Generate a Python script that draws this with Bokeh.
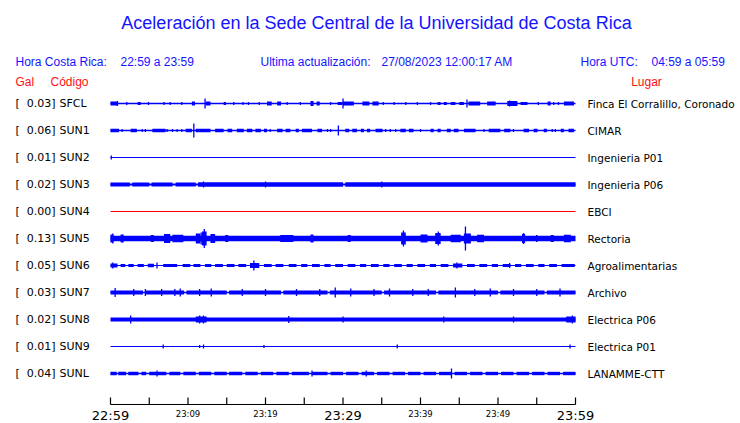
from bokeh.plotting import figure
from bokeh.models import Range1d, ColumnDataSource, Label
from bokeh.core.properties import value
from bokeh.embed import file_html
from bokeh.resources import INLINE

# ---------------- data ----------------
CODES = ["SFCL", "SUN1", "SUN2", "SUN3", "SUN4", "SUN5", "SUN6", "SUN7", "SUN8", "SUN9", "SUNL"]
PEAK_GAL = [0.03, 0.06, 0.01, 0.02, 0.00, 0.13, 0.05, 0.03, 0.02, 0.01, 0.04]
PLACES = ["Finca El Corralillo, Coronado", "CIMAR", "Ingenieria P01", "Ingenieria P06", "EBCI",
          "Rectoria", "Agroalimentarias", "Archivo", "Electrica P06", "Electrica P01", "LANAMME-CTT"]

# time axis: minutes after 22:59 (local Costa Rica time)
TICK_MINUTES = [0, 5, 10, 15, 20, 25, 30, 35, 40, 45, 50, 55, 60]
BIG_TICKS = [0, 30, 60]
BIG_LABELS = ["22:59", "23:29", "23:59"]
SMALL_TICKS = [10, 20, 40, 50]
SMALL_LABELS = ["23:09", "23:19", "23:39", "23:49"]

# trace appearance (display px): base line width
BASE_W = [1.5, 1.4, 1.2, 2.0, 1.2, 5.4, 1.2, 1.5, 4.0, 1.2, 1.5]

# bursts: (start minute, end minute, half height px)
SFCL_BURSTS = [(0, 0.9, 2), (3.5, 3.9, 1.5), (10.5, 10.9, 2), (12.3, 12.9, 2), (14.6, 14.9, 1.5),
               (20.2, 20.8, 2), (21.5, 22, 2), (25.8, 26.2, 2.5), (26.6, 27, 2), (29.3, 29.9, 1.5),
               (30, 31.4, 2), (32.5, 33.4, 2), (33.8, 34.6, 2), (42.2, 42.6, 1.5), (43, 43.4, 1.5),
               (43.9, 44.5, 1.5), (45, 45.6, 1.5), (46.2, 47.7, 2), (48.6, 49.7, 2), (51.2, 52.5, 2.5),
               (52.9, 53.8, 1.5), (56.4, 56.8, 2), (58.5, 59.8, 2)]
SUN1_BURSTS = [(0, 1.1, 1.7), (2.6, 3.4, 1.7), (5.4, 7.1, 1.7), (9.7, 10.5, 1.7), (11, 12.9, 1.7),
               (13.5, 14.6, 1.7), (15.1, 15.7, 1.7), (16.3, 17.2, 1.7), (17.6, 18.3, 1.7), (18.7, 19.4, 1.7),
               (19.8, 20.2, 1.7), (21.5, 22.2, 1.7), (22.6, 23.2, 1.7), (23.9, 24.3, 1.7), (24.7, 26, 1.7),
               (26.7, 27.3, 1.7), (30.3, 30.8, 1.7), (31.2, 31.8, 1.7), (32.3, 32.7, 1.7), (33.1, 33.5, 1.7),
               (34.2, 35.1, 1.7), (37.4, 38.1, 1.7), (38.5, 39.1, 1.7), (41.3, 41.7, 1.7), (42.2, 42.6, 1.7),
               (43.4, 43.9, 1.7), (44.3, 44.9, 1.7), (45.6, 47.1, 1.7), (48.8, 50.3, 1.7), (50.8, 51.6, 1.7),
               (53.3, 54, 1.7), (54.6, 55.1, 1.7), (55.9, 56.3, 1.7), (58.1, 58.5, 1.7), (59.1, 59.8, 1.7)]
SUN2_BURSTS = []
SUN3_BURSTS = [(0, 2.5, 2), (2.8, 5, 2), (5.3, 8, 2), (8.4, 11, 2), (11.3, 30, 2.2), (30.3, 60, 2.2)]
SUN4_BURSTS = []
SUN5_BURSTS = [(0, 0.4, 4), (1.3, 1.7, 4), (5.2, 5.6, 3.5), (6.9, 7.7, 4.5), (8, 9.4, 3.8), (11, 11.6, 5),
               (11.8, 12.4, 7), (12.9, 13.5, 4.5), (14.8, 15.2, 3.5), (21.9, 23.6, 3.5), (25.8, 26.2, 4),
               (30.6, 31, 3.5), (37.5, 38.1, 6), (40, 40.9, 4), (41.9, 42.6, 5.5), (43.9, 45.2, 3.8),
               (45.6, 46.5, 5), (47.3, 48.2, 3.8), (53.1, 53.5, 4.5), (54.9, 55.1, 3.5), (56.8, 57.2, 3.5),
               (58.5, 59.4, 3.8)]
SUN6_BURSTS = [(0, 0.9, 2), (1.3, 1.9, 1.5), (2.3, 3, 1.5), (3.5, 4.3, 1.5), (4.8, 5.6, 1.8), (6.8, 8.6, 1.5),
               (9.3, 10.3, 1.5), (10.7, 11.6, 1.5), (12.2, 13, 1.5), (13.5, 14.5, 1.5), (15, 16, 1.5),
               (16.5, 17.5, 1.5), (18, 19.2, 2.5), (19.8, 20.8, 1.5), (21.3, 22.3, 1.5), (23, 24, 1.5),
               (24.6, 25.4, 1.5), (26, 27, 1.5), (27.6, 28.4, 1.5), (29, 30, 1.5), (30.6, 31.6, 1.5),
               (32.2, 33, 1.5), (33.6, 34.6, 1.5), (35.2, 36, 1.5), (36.6, 37.6, 1.5), (38.2, 39, 1.5),
               (39.6, 40.6, 1.5), (41.2, 42, 1.5), (42.6, 43.6, 1.5), (44.2, 45.4, 2), (46, 47, 1.5),
               (47.6, 48.6, 1.5), (49.2, 50, 1.5), (50.6, 51.6, 1.5), (52.2, 53, 1.5), (53.6, 54.6, 1.5),
               (55.2, 56, 1.5), (56.6, 57.6, 1.5), (58.2, 59.9, 1.5)]
SUN7_BURSTS = [(0, 4.2, 2), (4.5, 9.5, 2), (9.8, 15, 2), (15.3, 22, 2), (22.3, 28, 2), (28.3, 35, 2),
               (35.3, 42, 2), (42.3, 50, 2), (50.3, 56, 2), (56.3, 60, 2)]
SUN8_BURSTS = [(11, 12.4, 3), (58.8, 60, 3)]
SUN9_BURSTS = []
SUNL_BURSTS = [(0, 0.8, 1.7), (1, 2, 1.7), (2.3, 3.6, 1.7), (4, 4.6, 1.7), (5, 7.2, 1.7), (7.6, 9, 1.7),
               (9.4, 11, 1.7), (11.4, 13, 1.7), (13.4, 15, 1.7), (15.3, 17, 1.7), (17.4, 19, 1.7),
               (19.4, 21, 1.7), (21.4, 23, 1.7), (23.4, 25.6, 1.7), (26, 28, 1.7), (28.4, 30, 1.7),
               (30.4, 32, 1.7), (32.4, 34, 1.7), (34.4, 36, 1.7), (36.4, 38, 1.7), (38.4, 40, 1.7),
               (40.4, 42, 1.7), (42.4, 44, 1.7), (44.4, 46, 1.7), (46.4, 48, 1.7), (48.4, 50, 1.7),
               (50.4, 52, 1.7), (52.4, 54, 1.7), (54.4, 56, 1.7), (56.4, 58, 1.7), (58.4, 60, 1.7)]

# spikes: (minute, half height px)
SFCL_SPIKES = [(0.9, 2.5), (2.1, 1.5), (4.9, 1.5), (6.9, 1.5), (7.7, 1.5), (9.2, 1.5), (12.2, 5), (15.9, 1.5),
               (17.1, 1.5), (17.8, 1.5), (19.2, 1.5), (22.8, 1.5), (24.5, 1.5), (28.4, 1.5), (30, 5),
               (35.2, 1.5), (36.6, 1.5), (38.1, 1.5), (39.6, 1.5), (41.3, 1.5), (46, 4), (51.5, 3),
               (55.2, 1.5), (57.2, 1.5), (57.8, 1.5)]
SUN1_SPIKES = [(1.5, 1.5), (4.1, 1.5), (4.5, 1.5), (7.3, 1.5), (8, 1.5), (8.6, 1.5), (9.2, 1.5),
               (10.75, 7), (20.6, 1.5), (28, 1.5), (28.4, 1.5), (29.4, 5), (35.5, 1.5), (36.1, 1.5),
               (36.8, 1.5), (40, 1.5), (48.2, 1.5), (52, 1.5), (57, 1.5), (57.4, 1.5)]
SUN2_SPIKES = [(0.1, 2)]
SUN3_SPIKES = [(12, 3), (20, 3), (35, 3)]
SUN4_SPIKES = []
SUN5_SPIKES = [(0.3, 5), (7.2, 4.5), (11.7, 6), (12.1, 9.5), (37.8, 8), (42.3, 7), (45.8, 12), (53.3, 5.5)]
SUN6_SPIKES = [(0.3, 3), (6, 3), (18.5, 5), (44.7, 3), (51.5, 2.5)]
SUN7_SPIKES = [(0.6, 4.5), (3, 3.5), (4.5, 3.5), (6.6, 3.5), (8.3, 3.5), (9, 4), (11.5, 3.5), (13, 4),
               (17, 3.5), (20, 3.5), (24, 3.5), (27, 3.5), (29, 5), (31, 4), (34, 3.5), (36, 4), (39, 3.5),
               (41, 3.5), (44.5, 5), (47, 3.5), (49, 4), (52, 3.5), (55, 3.5), (58, 4)]
SUN8_SPIKES = [(2.6, 4), (11.5, 4), (12, 4), (23, 3.5), (30, 3), (43, 3), (52, 3), (59.6, 4)]
SUN9_SPIKES = [(6.8, 2), (11.5, 1.5), (12, 2), (19.8, 1.5), (37, 2), (59.3, 2)]
SUNL_SPIKES = [(6, 3), (26, 3), (33, 3), (44, 5)]

BURSTS = [SFCL_BURSTS, SUN1_BURSTS, SUN2_BURSTS, SUN3_BURSTS, SUN4_BURSTS, SUN5_BURSTS,
          SUN6_BURSTS, SUN7_BURSTS, SUN8_BURSTS, SUN9_BURSTS, SUNL_BURSTS]
SPIKES = [SFCL_SPIKES, SUN1_SPIKES, SUN2_SPIKES, SUN3_SPIKES, SUN4_SPIKES, SUN5_SPIKES,
          SUN6_SPIKES, SUN7_SPIKES, SUN8_SPIKES, SUN9_SPIKES, SUNL_SPIKES]

# ---------------- layout helpers (image pixel -> data) ----------------
PX_PER_MIN = 7.75
X0_PX = 110.0
ROW0_PX = 103.0
ROW_PX = 27.0
W, HGT = 740, 423


def X(px):
    return (px - X0_PX) / PX_PER_MIN


def Y(py):
    return (py - ROW0_PX) / ROW_PX


def H(h):
    return h / ROW_PX


BLUE = "#1414ff"
RED = "#ff1010"
TRACE_BLUE = "#0000ff"
TRACE_COLORS = [TRACE_BLUE] * 11
TRACE_COLORS[4] = "#ff0000"

p = figure(width=W, height=HGT, x_range=Range1d(X(0), X(W)), y_range=Range1d(Y(HGT), Y(0)),
           output_backend="svg", toolbar_location=None, min_border=0,
           x_axis_type=None, y_axis_type=None, outline_line_color=None)
p.background_fill_color = "white"
p.border_fill_color = "white"

# ---------------- traces ----------------
for i, code in enumerate(CODES):
    col = TRACE_COLORS[i]
    p.segment(x0=[0], x1=[60], y0=[i], y1=[i], line_color=col, line_width=BASE_W[i])
    b = BURSTS[i]
    if b:
        p.quad(left=[t0 for t0, t1, h in b], right=[t1 for t0, t1, h in b],
               bottom=[i - H(h) for t0, t1, h in b], top=[i + H(h) for t0, t1, h in b],
               fill_color=col, line_color=None)
    s = SPIKES[i]
    if s:
        p.segment(x0=[t for t, h in s], x1=[t for t, h in s],
                  y0=[i - H(h) for t, h in s], y1=[i + H(h) for t, h in s],
                  line_color=col, line_width=1.3)

# ---------------- station labels ----------------
rows = list(range(len(CODES)))
src = ColumnDataSource(dict(
    y=rows,
    br=["["] * len(CODES),
    peak=[f"{v:.2f}]" for v in PEAK_GAL],
    code=CODES,
    place=PLACES,
))
common = dict(y="y", text_font=value("DejaVu Sans"), text_font_size="11px",
              text_baseline="middle", text_color="black", source=src)
p.text(x=X(15), text="br", text_align="left", **common)
p.text(x=X(55), text="peak", text_align="right", **common)
p.text(x=X(59), text="code", text_align="left", **common)
p.text(x=X(587), y="y", text="place", text_align="left", text_font=value("DejaVu Sans"),
       text_font_size="10.5px", text_baseline="middle", text_color="black", source=src)

# ---------------- header ----------------


def lab(xp, yp, txt, color, size="12px", align="left", font="Liberation Sans"):
    p.add_layout(Label(x=X(xp), y=Y(yp), text=txt, text_color=color, text_font=font,
                       text_font_size=size, text_align=align, text_baseline="middle"))


lab(376, 22, "Aceleración en la Sede Central de la Universidad de Costa Rica", BLUE, size="18px", align="center")
lab(15, 61, "Hora Costa Rica:", BLUE)
lab(120, 61, "22:59 a 23:59", BLUE)
lab(260, 61, "Ultima actualización:", BLUE)
lab(381, 61, "27/08/2023 12:00:17 AM", BLUE)
lab(580, 61, "Hora UTC:", BLUE)
lab(651, 61, "04:59 a 05:59", BLUE)
lab(15, 81, "Gal", RED)
lab(50, 81, "Código", RED)
lab(646, 81, "Lugar", RED, align="center")

# ---------------- time axis ----------------
AXIS_Y = 404
TICK_LEN = 7
p.segment(x0=[0], x1=[60], y0=[Y(AXIS_Y)], y1=[Y(AXIS_Y)], line_color="black", line_width=1.2)
p.segment(x0=TICK_MINUTES, x1=TICK_MINUTES, y0=[Y(AXIS_Y)] * len(TICK_MINUTES),
          y1=[Y(AXIS_Y - TICK_LEN)] * len(TICK_MINUTES), line_color="black", line_width=1.2)
p.text(x=BIG_TICKS, y=[Y(415)] * 3, text=BIG_LABELS, text_font=value("DejaVu Sans"),
       text_font_size="13px", text_align="center", text_baseline="alphabetic", text_color="black")
p.text(x=SMALL_TICKS, y=[Y(413.5)] * 4, text=SMALL_LABELS, text_font=value("DejaVu Sans"),
       text_font_size="8.5px", text_align="center", text_baseline="alphabetic", text_color="black")

open("out.html", "w").write(file_html(p, INLINE))
